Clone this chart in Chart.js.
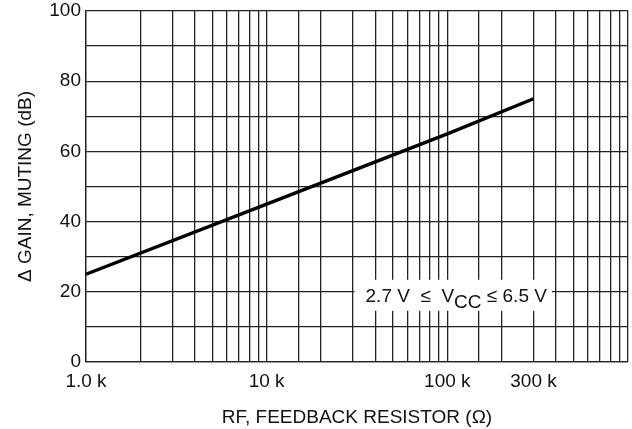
<!DOCTYPE html>
<html>
<head>
<meta charset="utf-8">
<script src="https://cdn.jsdelivr.net/npm/chart.js@4/dist/chart.umd.min.js"></script>
<style>
  html, body { margin: 0; padding: 0; background: #fff; }
  #wrap { width: 632px; height: 429px; }
</style>
</head>
<body>
<div id="wrap"><canvas id="canvas"></canvas></div>
<script>
// RF feedback resistor (ohm) vs delta gain muting (dB)
var resistor = [1000, 10000, 100000, 300000];
var gainMuting = [25, 45, 65, 75];

var xTickValues = [1000, 10000, 100000, 300000];
var xTickLabels = ['1.0 k', '10 k', '100 k', '300 k'];
var yTickValues = [0, 20, 40, 60, 80, 100];

var FONT = "'Liberation Sans', Arial, sans-serif";
var GRID = '#222';

// draws the "2.7 V <= VCC <= 6.5 V" note with white box on the 20 dB line
var notePlugin = {
  id: 'note',
  afterDraw: function(chart) {
    var ctx = chart.ctx;
    var x = chart.scales.x, y = chart.scales.y;
    var cx = x.getPixelForValue(112000);
    var cy = y.getPixelForValue(20);
    var big = '19px ' + FONT;
    var parts = [
      { t: '2.7 V  \u2264  V', f: big, dy: 0 },
      { t: 'CC', f: big, dy: 6 },
      { t: ' \u2264 6.5 V', f: big, dy: 0 }
    ];
    ctx.save();
    var w = 0;
    parts.forEach(function(p) { ctx.font = p.f; p.w = ctx.measureText(p.t).width; w += p.w; });
    var left = cx - w / 2;
    ctx.fillStyle = '#fff';
    ctx.fillRect(left - 11, cy - 12, w + 16, 31);
    ctx.fillStyle = '#111';
    ctx.textBaseline = 'alphabetic';
    var px = left;
    parts.forEach(function(p) {
      ctx.font = p.f;
      ctx.fillText(p.t, px, cy + 10 + p.dy);
      px += p.w;
    });
    ctx.restore();
  }
};

function init() {
  var points = [];
  for (var i = 0; i < resistor.length; i++) {
    points.push({ x: resistor[i], y: gainMuting[i] });
  }
  var ctx = document.getElementById('canvas').getContext('2d');
  window.myChart = new Chart(ctx, {
    type: 'line',
    data: {
      datasets: [{
        label: 'Gain muting',
        data: points,
        borderColor: '#000',
        borderWidth: 3.4,
        pointRadius: 0,
        fill: false,
        tension: 0
      }]
    },
    options: {
      responsive: true,
      maintainAspectRatio: false,
      animation: false,
      layout: { padding: { top: 11, right: 4, left: 0, bottom: 0 } },
      plugins: {
        legend: { display: false },
        tooltip: { enabled: false }
      },
      scales: {
        x: {
          type: 'logarithmic',
          min: 1000,
          max: 1000000,
          border: { color: GRID, width: 1.3 },
          grid: { color: GRID, lineWidth: 1.3, drawTicks: false },
          ticks: {
            autoSkip: false,
            maxRotation: 0,
            padding: 8,
            color: '#111',
            font: { family: FONT, size: 19 },
            callback: function(value) {
              var k = xTickValues.indexOf(value);
              return k >= 0 ? xTickLabels[k] : '';
            }
          },
          title: {
            display: true,
            text: 'RF, FEEDBACK RESISTOR (\u03A9)',
            color: '#111',
            font: { family: FONT, size: 19 },
            padding: { top: 8, bottom: 0 }
          },
          afterFit: function(scale) {
            scale.height = 67;
            scale.paddingRight = 0;
            scale.paddingLeft = 0;
          }
        },
        y: {
          min: 0,
          max: 100,
          border: { color: GRID, width: 1.3 },
          grid: { color: GRID, lineWidth: 1.3, drawTicks: false },
          ticks: {
            stepSize: 10,
            padding: 5,
            color: '#111',
            font: { family: FONT, size: 19 },
            callback: function(value) {
              return yTickValues.indexOf(value) >= 0 ? String(value) : '';
            }
          },
          title: {
            display: true,
            text: '\u0394 GAIN, MUTING (dB)',
            color: '#111',
            font: { family: FONT, size: 19 },
            padding: { top: 14, bottom: 0 }
          },
          afterFit: function(scale) {
            scale.width = 86;
            scale.paddingTop = 0;
            scale.paddingBottom = 0;
          }
        }
      }
    },
    plugins: [notePlugin]
  });
}

window.onload = init;
</script>
</body>
</html>
